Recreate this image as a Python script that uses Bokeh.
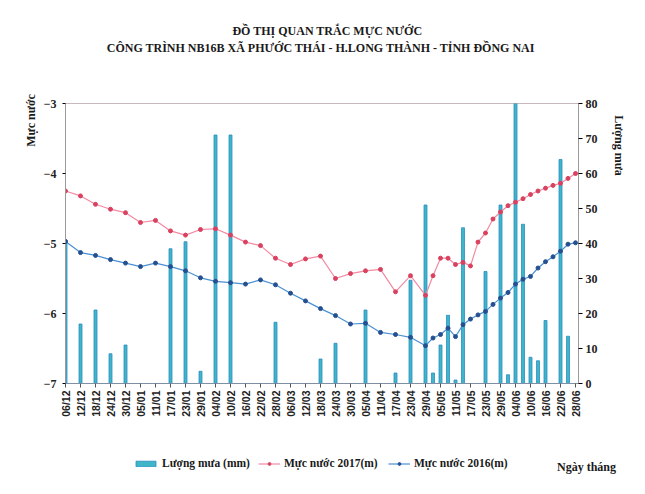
import pandas as pd
from math import pi
from bokeh.plotting import figure
from bokeh.layouts import column
from bokeh.models import (Range1d, LinearAxis, FixedTicker, DatetimeTickFormatter,
                          Label, Legend, LegendItem, ColumnDataSource)
from bokeh.embed import file_html
from bokeh.resources import INLINE

title_line1 = "ĐỒ THỊ QUAN TRẮC MỰC NƯỚC"
title_line2 = "CÔNG TRÌNH NB16B XÃ PHƯỚC THÁI - H.LONG THÀNH  - TỈNH ĐỒNG NAI"
left_title = "Mực nước"
right_title = "Lượng mưa"
x_title = "Ngày tháng"

dates = ["2016-12-06", "2016-12-12", "2016-12-18", "2016-12-24", "2016-12-30",
         "2017-01-05", "2017-01-11", "2017-01-17", "2017-01-23", "2017-01-29",
         "2017-02-04", "2017-02-10", "2017-02-16", "2017-02-22", "2017-02-28",
         "2017-03-06", "2017-03-12", "2017-03-18", "2017-03-24", "2017-03-30",
         "2017-04-05", "2017-04-11", "2017-04-17", "2017-04-23", "2017-04-29",
         "2017-05-02", "2017-05-05", "2017-05-08", "2017-05-11", "2017-05-14",
         "2017-05-17", "2017-05-20", "2017-05-23", "2017-05-26", "2017-05-29",
         "2017-06-01", "2017-06-04", "2017-06-07", "2017-06-10", "2017-06-13",
         "2017-06-16", "2017-06-19", "2017-06-22", "2017-06-25", "2017-06-28"]

level_2017 = [-4.25, -4.32, -4.44, -4.51, -4.56, -4.70, -4.67, -4.82, -4.88, -4.80,
              -4.79, -4.88, -4.98, -5.03, -5.21, -5.30, -5.22, -5.18, -5.50, -5.43,
              -5.39, -5.37, -5.69, -5.46, -5.74, -5.46, -5.21, -5.21, -5.30, -5.27,
              -5.32, -4.98, -4.85, -4.65, -4.55, -4.46, -4.41, -4.36, -4.30, -4.25,
              -4.21, -4.17, -4.14, -4.07, -4.00]

level_2016 = [-4.97, -5.13, -5.17, -5.23, -5.28, -5.33, -5.28, -5.33, -5.39, -5.49,
              -5.54, -5.56, -5.58, -5.52, -5.59, -5.71, -5.82, -5.93, -6.03, -6.15,
              -6.14, -6.27, -6.30, -6.34, -6.46, -6.35, -6.30, -6.21, -6.33, -6.16,
              -6.08, -6.02, -5.97, -5.87, -5.78, -5.70, -5.58, -5.51, -5.47, -5.35,
              -5.26, -5.19, -5.11, -5.01, -4.99]

rain_mm = [41, 17, 21, 8.5, 11, 0, 0, 38.5, 40.5, 3.5,
           71, 71, 0, 0, 17.5, 0, 0, 7, 11.5, 0,
           21, 0, 3, 29.5, 51, 3, 11, 19.5, 1, 44.5,
           0, 0, 32, 0, 51, 2.5, 80, 45.5, 7.5, 6.5,
           18, 0, 64, 13.5, 0]

tick_dates = ["2016-12-06", "2016-12-12", "2016-12-18", "2016-12-24", "2016-12-30",
              "2017-01-05", "2017-01-11", "2017-01-17", "2017-01-23", "2017-01-29",
              "2017-02-04", "2017-02-10", "2017-02-16", "2017-02-22", "2017-02-28",
              "2017-03-06", "2017-03-12", "2017-03-18", "2017-03-24", "2017-03-30",
              "2017-04-05", "2017-04-11", "2017-04-17", "2017-04-23", "2017-04-29",
              "2017-05-05", "2017-05-11", "2017-05-17", "2017-05-23", "2017-05-29",
              "2017-06-04", "2017-06-10", "2017-06-16", "2017-06-22", "2017-06-28"]

left_ticks = [-7, -6, -5, -4, -3]
right_ticks = [0, 10, 20, 30, 40, 50, 60, 70, 80]

legend_rain = "Lượng mưa (mm)"
legend_2017 = "Mực nước 2017(m)"
legend_2016 = "Mực nước 2016(m)"

# ---------------------------------------------------------------------------
x = pd.to_datetime(dates)
src = ColumnDataSource(dict(x=x, l17=level_2017, l16=level_2016, rain=rain_mm))
ms = lambda s: (pd.Timestamp(s) - pd.Timestamp("1970-01-01")) // pd.Timedelta("1ms")
day = pd.Timedelta("1D")

SERIF = "Liberation Serif"
SANS = "Liberation Sans"
W = 642

BAR_STYLE = dict(fill_color="#3fb6c8", line_color="#2b8dc2", line_width=0.8)
L17_STYLE = dict(line_color="#f28aa2", line_width=1.2)
P17_STYLE = dict(size=4, fill_color="#d9415f", line_color="#d9415f")
L16_STYLE = dict(line_color="#4a90d4", line_width=1.2)
P16_STYLE = dict(size=4, fill_color="#25508f", line_color="#25508f")

xr = Range1d(x[0], x[-1] + 1.2 * day)

p = figure(width=W, height=440, x_axis_type="datetime", output_backend="svg",
           toolbar_location=None, title=None,
           x_range=xr, y_range=Range1d(-7, -3),
           min_border_left=65, min_border_right=W - 578, min_border_top=103, min_border_bottom=57)
p.extra_y_ranges = {"rain": Range1d(0, 80)}
p.xgrid.visible = False
p.ygrid.visible = False
p.outline_line_color = "#c8b8bc"
p.background_fill_color = "white"
p.border_fill_color = "white"

p.vbar(x="x", top="rain", width=1.2 * 86400000, bottom=0, source=src,
       y_range_name="rain", **BAR_STYLE)
p.line("x", "l17", source=src, **L17_STYLE)
p.scatter("x", "l17", source=src, **P17_STYLE)
p.line("x", "l16", source=src, **L16_STYLE)
p.scatter("x", "l16", source=src, **P16_STYLE)

# axes
xa = p.xaxis[0]
xa.ticker = FixedTicker(ticks=[ms(d) for d in tick_dates])
xa.formatter = DatetimeTickFormatter(days="%d/%m", months="%d/%m", years="%d/%m",
                                     hours="%d/%m", minutes="%d/%m", seconds="%d/%m",
                                     milliseconds="%d/%m", microseconds="%d/%m",
                                     minsec="%d/%m", hourmin="%d/%m")
xa.major_label_orientation = pi / 2
xa.major_label_text_font = SANS
xa.major_label_text_font_style = "bold"
xa.major_label_text_font_size = "10.5px"
xa.major_label_text_color = "#222222"
xa.major_label_standoff = 3
xa.major_tick_out = 4
xa.major_tick_in = 0
xa.minor_tick_out = 0
xa.minor_tick_in = 0
xa.axis_line_color = "#7f8fa8"
xa.major_tick_line_color = "#555555"

ya = p.yaxis[0]
ya.ticker = FixedTicker(ticks=left_ticks)
ya.major_label_text_font = SERIF
ya.major_label_text_font_style = "bold"
ya.major_label_text_font_size = "12px"
ya.major_label_text_color = "#222222"
ya.major_label_standoff = 6
ya.major_tick_out = 3
ya.major_tick_in = 0
ya.minor_tick_out = 0
ya.minor_tick_in = 0
ya.axis_line_color = "#9a9a9a"

ra = LinearAxis(y_range_name="rain", ticker=FixedTicker(ticks=right_ticks))
ra.major_label_text_font = SERIF
ra.major_label_text_font_style = "bold"
ra.major_label_text_font_size = "12px"
ra.major_label_text_color = "#222222"
ra.major_label_standoff = 3
ra.major_tick_out = 4
ra.major_tick_in = 0
ra.minor_tick_out = 0
ra.minor_tick_in = 0
ra.axis_line_color = "#9a9a9a"
p.add_layout(ra, "right")

# titles and axis names (canvas coordinates; hosted in side panels so they are not clipped)
def lab(fig, text, x, y, size, side, angle=0.0):
    fig.add_layout(Label(x=x, y=y, x_units="canvas", y_units="canvas", text=text,
                         text_font=SERIF, text_font_style="bold", text_font_size=size,
                         text_color="#1a1a1a", text_align="center", text_baseline="middle",
                         angle=angle), side)

lab(p, title_line1, 327, 30, "12px", "above")
lab(p, title_line2, 322, 47, "12px", "above")
lab(p, left_title, 30, 120, "12px", "left", angle=pi / 2)
lab(p, right_title, 618, 145, "12px", "right", angle=-pi / 2)

# ---------------- legend strip below the chart (frame aligned with the chart's) ----------------
LH = 50
q = figure(width=W, height=LH, output_backend="svg", toolbar_location=None, title=None,
           x_axis_type=None, y_axis_type=None, x_range=xr, y_range=Range1d(1000, 1001),
           min_border_left=65, min_border_right=W - 578, min_border_top=0, min_border_bottom=0)
q.xgrid.visible = False
q.ygrid.visible = False
q.outline_line_color = None
q.background_fill_color = "white"
q.border_fill_color = "white"

# proxy renderers for the legend keys (their values lie far below this strip's y range)
g_bar = q.vbar(x="x", top="rain", width=1, source=src, **BAR_STYLE)
g17_l = q.line("x", "l17", source=src, **L17_STYLE)
g17_p = q.scatter("x", "l17", source=src, **P17_STYLE)
g16_l = q.line("x", "l16", source=src, **L16_STYLE)
g16_p = q.scatter("x", "l16", source=src, **P16_STYLE)

FRAME_LEFT = 65

def leg(name, renderers, page_x, gw):
    lg = Legend(items=[LegendItem(label=name, renderers=renderers)],
                location=(page_x - FRAME_LEFT, 21),
                orientation="horizontal", padding=0, margin=0, spacing=0,
                glyph_width=gw, glyph_height=7, label_height=12, label_standoff=4,
                label_text_font=SERIF, label_text_font_style="bold",
                label_text_font_size="11.5px", label_text_color="#1a1a1a",
                border_line_alpha=0, background_fill_alpha=0)
    q.add_layout(lg, "center")

leg(legend_rain, [g_bar], 133, 25)
leg(legend_2017, [g17_l, g17_p], 258, 22)
leg(legend_2016, [g16_l, g16_p], 388, 22)

lab(q, x_title, 586, 26, "12px", "right")

layout = column(p, q, spacing=0)
open("out.html", "w").write(file_html(layout, INLINE))
